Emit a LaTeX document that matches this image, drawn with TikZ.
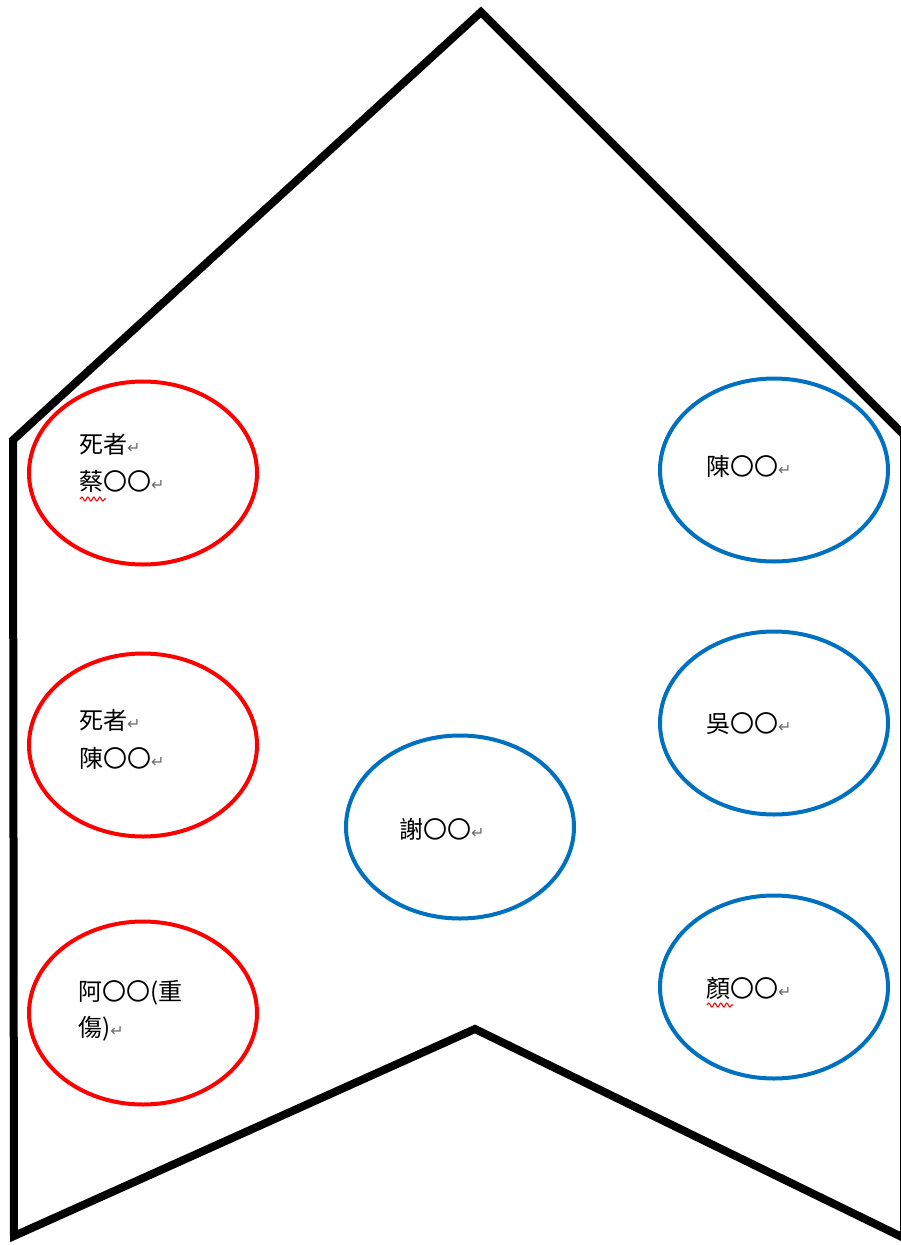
\documentclass[tikz,border=0pt]{standalone}
\usepackage{fontspec}
\newfontfamily\cjk{Noto Sans CJK TC}
\newfontfamily\dvsans{DejaVu Sans}
\usetikzlibrary{shapes.geometric,decorations.pathmorphing}
\definecolor{redc}{RGB}{255,0,0}
\definecolor{bluec}{RGB}{0,112,192}
\definecolor{retc}{RGB}{110,110,110}
\newcommand{\retmark}{{\dvsans\fontsize{16}{16}\selectfont\color{retc}↵}}
\begin{document}
\begin{tikzpicture}[x=1pt,y=-1pt,
  outline/.style={line width=8pt, line join=miter, miter limit=10},
  redell/.style={ellipse, draw=redc, line width=4pt, minimum width=228pt, minimum height=183pt, inner sep=0pt},
  blueell/.style={ellipse, draw=bluec, line width=4pt, minimum width=228pt, minimum height=183pt, inner sep=0pt},
  lbl/.style={font=\cjk\fontsize{24}{24}\selectfont, anchor=base west, inner sep=0pt},
  wavy/.style={draw=redc, line width=1.1pt, decorate, decoration={snake, segment length=6pt, amplitude=2pt}}]
\useasboundingbox (0,0) rectangle (901,1245);
\clip (0,0) rectangle (901,1245);
\fill[white] (0,0) rectangle (901,1245);
% banner outline
\draw[outline] (481,12) -- (904,435) -- (904,1238) -- (475,1029) -- (14,1236) -- (13,440) -- cycle;
% ellipses
\node[redell] (e1) at (143,473) {};
\node[redell] (e2) at (143,745) {};
\node[redell] (e3) at (143,1013) {};
\node[blueell] (e4) at (460,827) {};
\node[blueell] (e5) at (774,470) {};
\node[blueell] (e6) at (774,723) {};
\node[blueell] (e7) at (774,987) {};
% labels
\node[lbl] (t1a) at (79,453) {死者\retmark};
\node[lbl] (t1b) at (79,490) {蔡〇〇\retmark};
\node[lbl] (t2a) at (79,729) {死者\retmark};
\node[lbl] (t2b) at (79,767) {陳〇〇\retmark};
\node[lbl] (t3a) at (78,1000) {阿〇〇(重};
\node[lbl] (t3b) at (78,1036) {傷)\retmark};
\node[lbl] (t4) at (399,838) {謝〇〇\retmark};
\node[lbl] (t5) at (706,475) {陳〇〇\retmark};
\node[lbl] (t6) at (706,732) {吳〇〇\retmark};
\node[lbl] (t7) at (706,997) {顏〇〇\retmark};
% spell-check squiggles
\draw[wavy] ([xshift=1pt,yshift=-9pt]t1b.base west) -- ++(26,0);
\draw[wavy] ([xshift=1pt,yshift=-8pt]t7.base west) -- ++(26,0);
\end{tikzpicture}
\end{document}
